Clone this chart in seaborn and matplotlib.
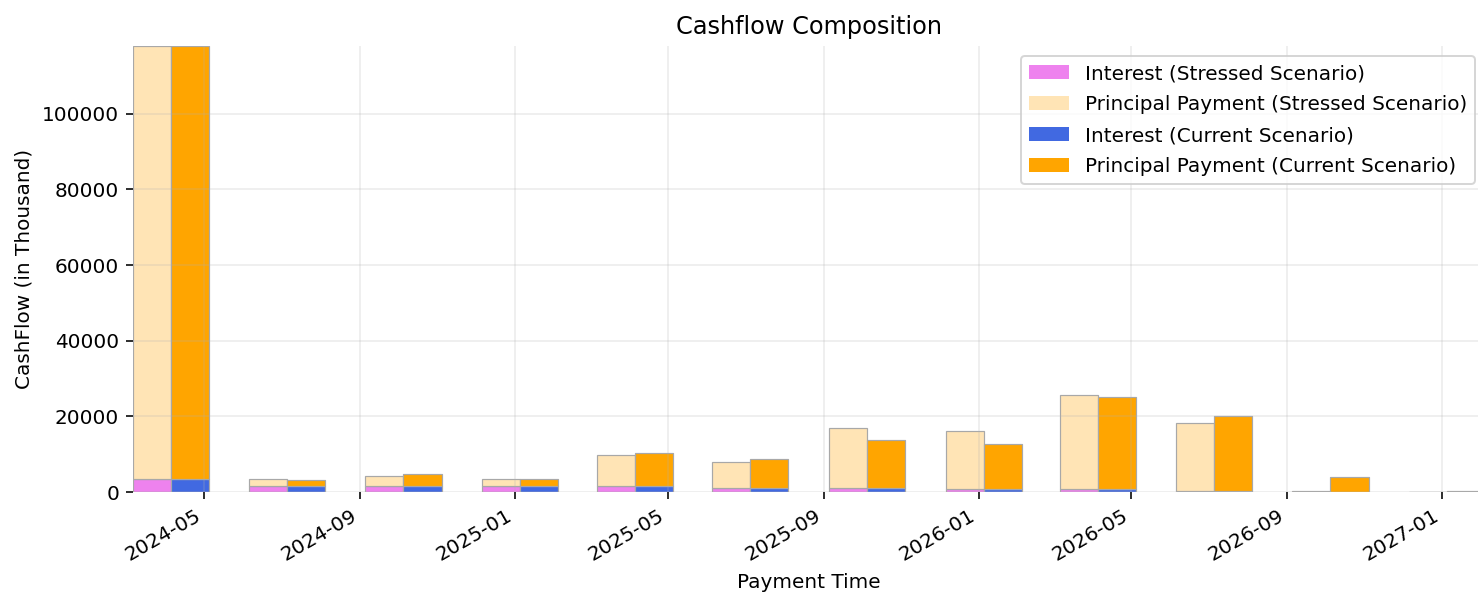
import pandas as pd
import matplotlib
matplotlib.use("Agg")
import matplotlib.pyplot as plt
import matplotlib.dates as mdates
import seaborn as sns

# Payment dates and cashflows (in thousand)
dates = ['2024-04-05', '2024-07-05', '2024-10-05', '2025-01-05', '2025-04-05', '2025-07-05',
         '2025-10-05', '2026-01-05', '2026-04-05', '2026-07-05', '2026-10-05', '2027-01-05']
stressed_interest = [3400, 1550, 1550, 1550, 1550, 1150, 1150, 750, 750, 300, 50, 0]
stressed_principal = [114400, 2050, 2750, 2050, 8210, 6950, 15750, 15450, 24990, 17850, 300, 0]
current_interest = [3400, 1550, 1550, 1550, 1550, 1150, 1150, 750, 750, 300, 50, 10]
current_principal = [114400, 1620, 3200, 2050, 8930, 7680, 12700, 12040, 24280, 19700, 3840, 250]

df = pd.DataFrame({
    'Date': pd.to_datetime(dates),
    'Stressed Interest': stressed_interest,
    'Stressed Principal': stressed_principal,
    'Current Interest': current_interest,
    'Current Principal': current_principal,
})

sns.set_style("ticks", rc={"axes.axisbelow": "line"})

fig, ax = plt.subplots(figsize=(1478 / 144, 593 / 144), dpi=144)
fig.subplots_adjust(left=0.09, right=1.005, top=0.922, bottom=0.17)

x = mdates.date2num(df['Date'])
w = 30  # days
edge = dict(edgecolor='#a8a8a8', linewidth=0.6)

ax.bar(x, df['Stressed Interest'], width=-w, align='edge', color='violet',
       label='Interest (Stressed Scenario)', **edge)
ax.bar(x, df['Stressed Principal'], width=-w, align='edge', bottom=df['Stressed Interest'],
       color='moccasin', label='Principal Payment (Stressed Scenario)', **edge)
ax.bar(x, df['Current Interest'], width=w, align='edge', color='royalblue',
       label='Interest (Current Scenario)', **edge)
ax.bar(x, df['Current Principal'], width=w, align='edge', bottom=df['Current Interest'],
       color='orange', label='Principal Payment (Current Scenario)', **edge)

top = max((df['Stressed Interest'] + df['Stressed Principal']).max(),
          (df['Current Interest'] + df['Current Principal']).max())
ax.set_ylim(0, top)
ax.set_xlim(x[0] - w, x[-1] + w)

ax.xaxis.set_major_locator(mdates.MonthLocator(bymonth=[1, 5, 9]))
ax.xaxis.set_major_formatter(mdates.DateFormatter('%Y-%m'))
plt.setp(ax.get_xticklabels(), rotation=30, ha='right')
ax.tick_params(labelsize=10, colors='black')

ax.grid(True, color='#b0b0b0', alpha=0.25, linewidth=0.8)
sns.despine(ax=ax, left=True, bottom=True)

ax.set_title('Cashflow Composition', fontsize=12, color='black')
ax.set_xlabel('Payment Time', fontsize=10, color='black')
ax.set_ylabel('CashFlow (in Thousand)', fontsize=10, color='black')
leg = ax.legend(loc='upper right', fontsize=10, labelspacing=0.6)
for h in leg.legend_handles:
    h.set_edgecolor('none')
for t in leg.get_texts():
    t.set_color('black')

fig.savefig('out.png', dpi=144)
